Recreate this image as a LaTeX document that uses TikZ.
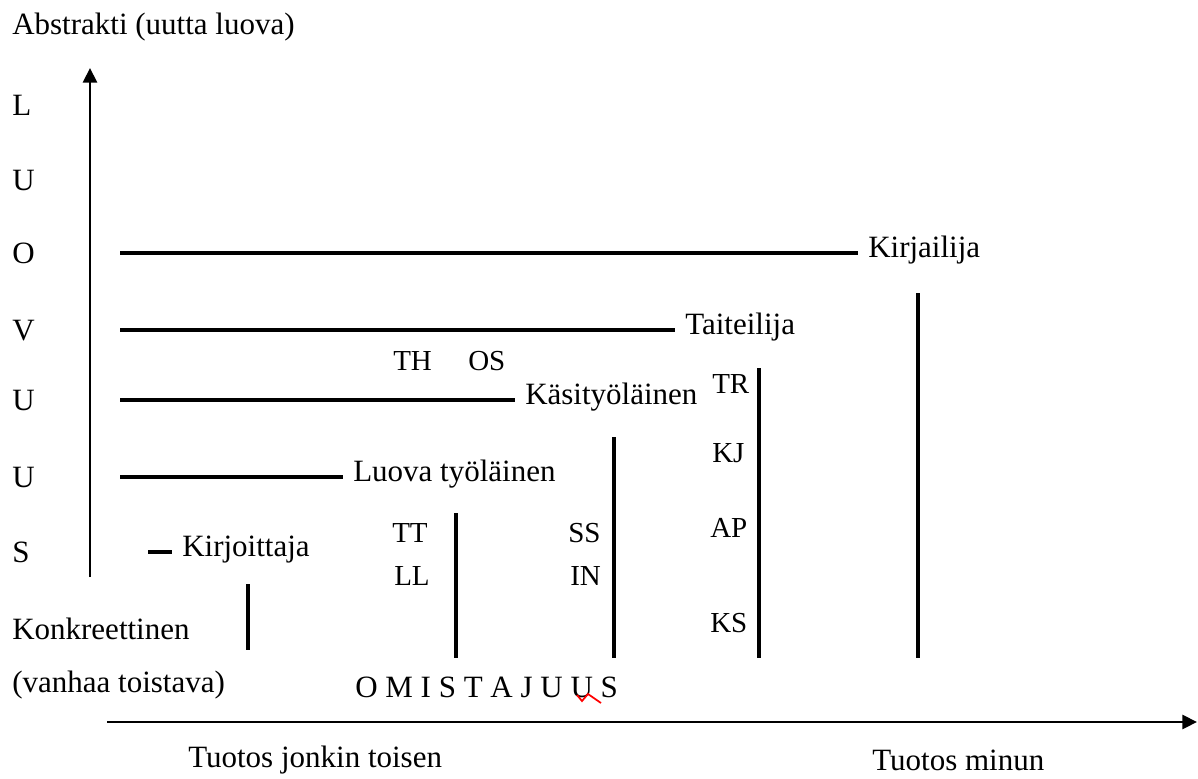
\documentclass[tikz,border=0pt]{standalone}
\usepackage{fontspec}
\setmainfont{Liberation Serif}
\usetikzlibrary{arrows.meta}
\begin{document}
\begin{tikzpicture}[x=0.75pt,y=-0.75pt]
\tikzstyle{txt} = [font=\fontsize{23.25}{28}\selectfont, inner sep=0, anchor=base west];
\tikzstyle{role} = [font=\fontsize{23.25}{28}\selectfont, inner xsep=7.5pt, inner ysep=0, text height=0.66em, text depth=0pt, anchor=west];
\tikzstyle{abbr} = [font=\fontsize{21.75}{26}\selectfont, inner sep=0, anchor=base west];
\tikzstyle{axis} = [line width=2.2pt, -{Triangle[length=11pt,width=10.5pt]}];
\tikzstyle{hline} = [line width=2.6pt];
\tikzstyle{vline} = [line width=2.6pt];
\useasboundingbox (0,0) rectangle (1198,778);

% axes
\coordinate (yfoot) at (90,577);
\coordinate (ytop) at (90,68);
\coordinate (xfoot) at (107,722);
\coordinate (xend) at (1197,722);
\draw [axis] (yfoot) -- (ytop);
\draw [axis] (xfoot) -- (xend);
\node [txt] (abstr) at (12,34) {Abstrakti (uutta luova)};
\node [txt] (konkr) at (12,639) {Konkreettinen};
\node [txt] (vanhaa) at (12,692) {(vanhaa toistava)};
\node [txt] (toisen) at (188,767) {Tuotos jonkin toisen};
\node [txt] (minun) at (872,770) {Tuotos minun};

% LUOVUUS
\node [txt] (c1) at (12,115) {L};
\node [txt] (c2) at (12,190) {U};
\node [txt] (c3) at (12,263) {O};
\node [txt] (c4) at (12,340) {V};
\node [txt] (c5) at (12,410) {U};
\node [txt] (c6) at (12,487) {U};
\node [txt] (c7) at (12,562) {S};

% levels
\node [role] (kirjailija) at (858,253) {Kirjailija};
\node [role] (taiteilija) at (675,330) {Taiteilija};
\node [role] (kasityo) at (515,400) {Käsityöläinen};
\node [role] (luova) at (343,477) {Luova työläinen};
\node [role] (kirjoittaja) at (172,552) {Kirjoittaja};
\coordinate (s1) at (148,552);
\coordinate (s2) at (120,477);
\coordinate (s3) at (120,400);
\coordinate (s4) at (120,330);
\coordinate (s5) at (120,253);
\draw [hline] (s1) -- (kirjoittaja.west);
\draw [hline] (s2) -- (luova.west);
\draw [hline] (s3) -- (kasityo.west);
\draw [hline] (s4) -- (taiteilija.west);
\draw [hline] (s5) -- (kirjailija.west);

% ownership
\coordinate (v1a) at (248,584); \coordinate (v1b) at (248,650);
\coordinate (v2a) at (456,513); \coordinate (v2b) at (456,658);
\coordinate (v3a) at (614,437); \coordinate (v3b) at (614,658);
\coordinate (v4a) at (759,368); \coordinate (v4b) at (759,658);
\coordinate (v5a) at (918,293); \coordinate (v5b) at (918,658);
\draw [vline] (v1a) -- (v1b);
\draw [vline] (v2a) -- (v2b);
\draw [vline] (v3a) -- (v3b);
\draw [vline] (v4a) -- (v4b);
\draw [vline] (v5a) -- (v5b);
\node [txt] (omist) at (355,697) {O M I S T A J U U S};
\draw [red, line width=1.3pt] ([shift={(222,-2)}]omist.base west) -- ++(5,6) -- ++(6,-7) -- ++(13,9);

\node [abbr] (th) at (393,370) {TH};
\node [abbr] (os) at (468,370) {OS};
\node [abbr] (tr) at (712,393) {TR};
\node [abbr] (kj) at (712,462) {KJ};
\node [abbr] (ap) at (710,537) {AP};
\node [abbr] (ks) at (710,632) {KS};
\node [abbr] (tt) at (392,542) {TT};
\node [abbr] (ll) at (394,585) {LL};
\node [abbr] (ss) at (568,542) {SS};
\node [abbr] (in) at (570,585) {IN};
\end{tikzpicture}
\end{document}
